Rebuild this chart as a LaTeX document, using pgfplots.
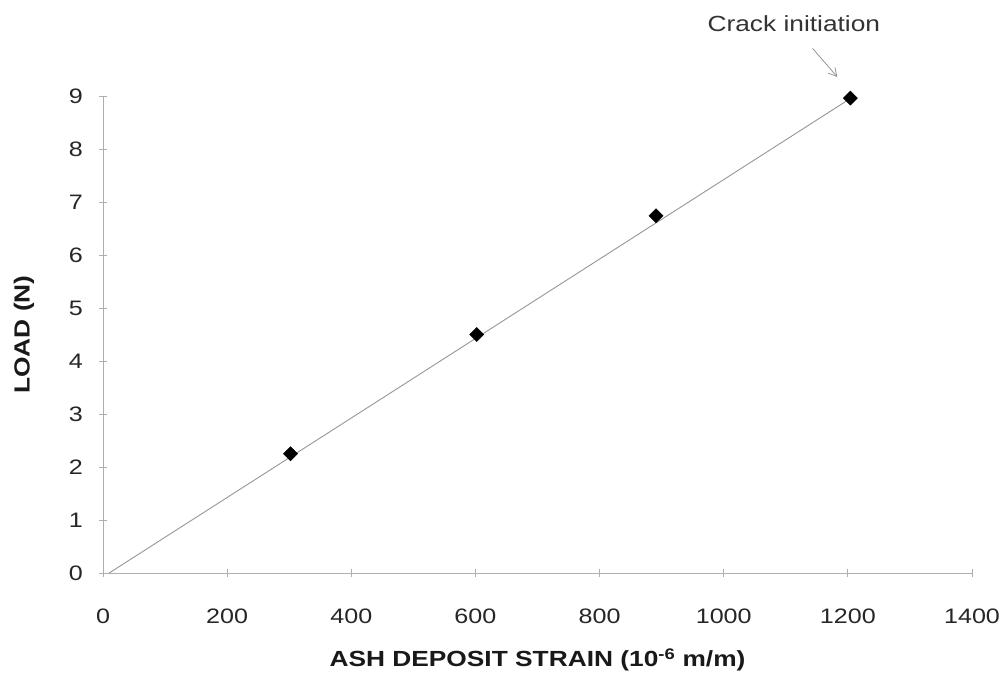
\documentclass[border=0pt]{standalone}
\usepackage{pgfplots}
\pgfplotsset{compat=1.18}
\usepackage{fontspec}
\setmainfont[FakeStretch=1.2]{Liberation Sans}
\usetikzlibrary{arrows.meta}
\definecolor{axgray}{RGB}{175,175,175}
\definecolor{lngray}{RGB}{150,150,150}
\begin{document}
\begin{tikzpicture}
\begin{axis}[
  scale only axis,
  width=869bp, height=477bp,
  xmin=0, xmax=1400, ymin=0, ymax=9,
  xtick={0,200,...,1400}, ytick={0,1,...,9},
  axis lines=left,
  axis line style={axgray, line width=0.8bp, -},
  tick style={axgray, line width=0.8bp},
  tick align=center,
  major tick length=8bp,
  clip=false,
  /pgf/number format/assume math mode=true,
  /pgf/number format/1000 sep={},
  ticklabel style={font=\fontsize{21}{21}\selectfont, text=black!85},
  xticklabel style={anchor=center, yshift=-39bp},
  yticklabel style={anchor=east, inner sep=0pt, xshift=-16bp},
  xlabel={ASH DEPOSIT STRAIN (10\textsuperscript{-6} m/m)},
  ylabel={LOAD (N)},
  label style={font=\bfseries\fontsize{22}{22}\selectfont, text=black!90},
  xlabel style={at={(axis description cs:0.5,-0.1824)}, anchor=center},
  ylabel style={at={(axis description cs:-0.0909,0.5)}, anchor=center},
]
\addplot[lngray, line width=0.9bp, no marks] coordinates {(10,0) (1205,8.96)};
\addplot[only marks, mark=square*, mark options={rotate=45}, mark size=5bp, black] coordinates {
  (302,2.25) (602,4.50) (891,6.74) (1204,8.96)
};
\node[font=\fontsize{22}{22}\selectfont, text=black!80] at (axis cs:1113,10.37) {Crack initiation};
\draw[lngray, line width=0.8bp, -{Straight Barb[length=8bp,width=9bp]}] (axis cs:1143,9.9) -- (axis cs:1183,9.36);
\end{axis}
\path[use as bounding box] (-103bp,-117bp) rectangle (901bp,573bp);
\end{tikzpicture}
\end{document}
